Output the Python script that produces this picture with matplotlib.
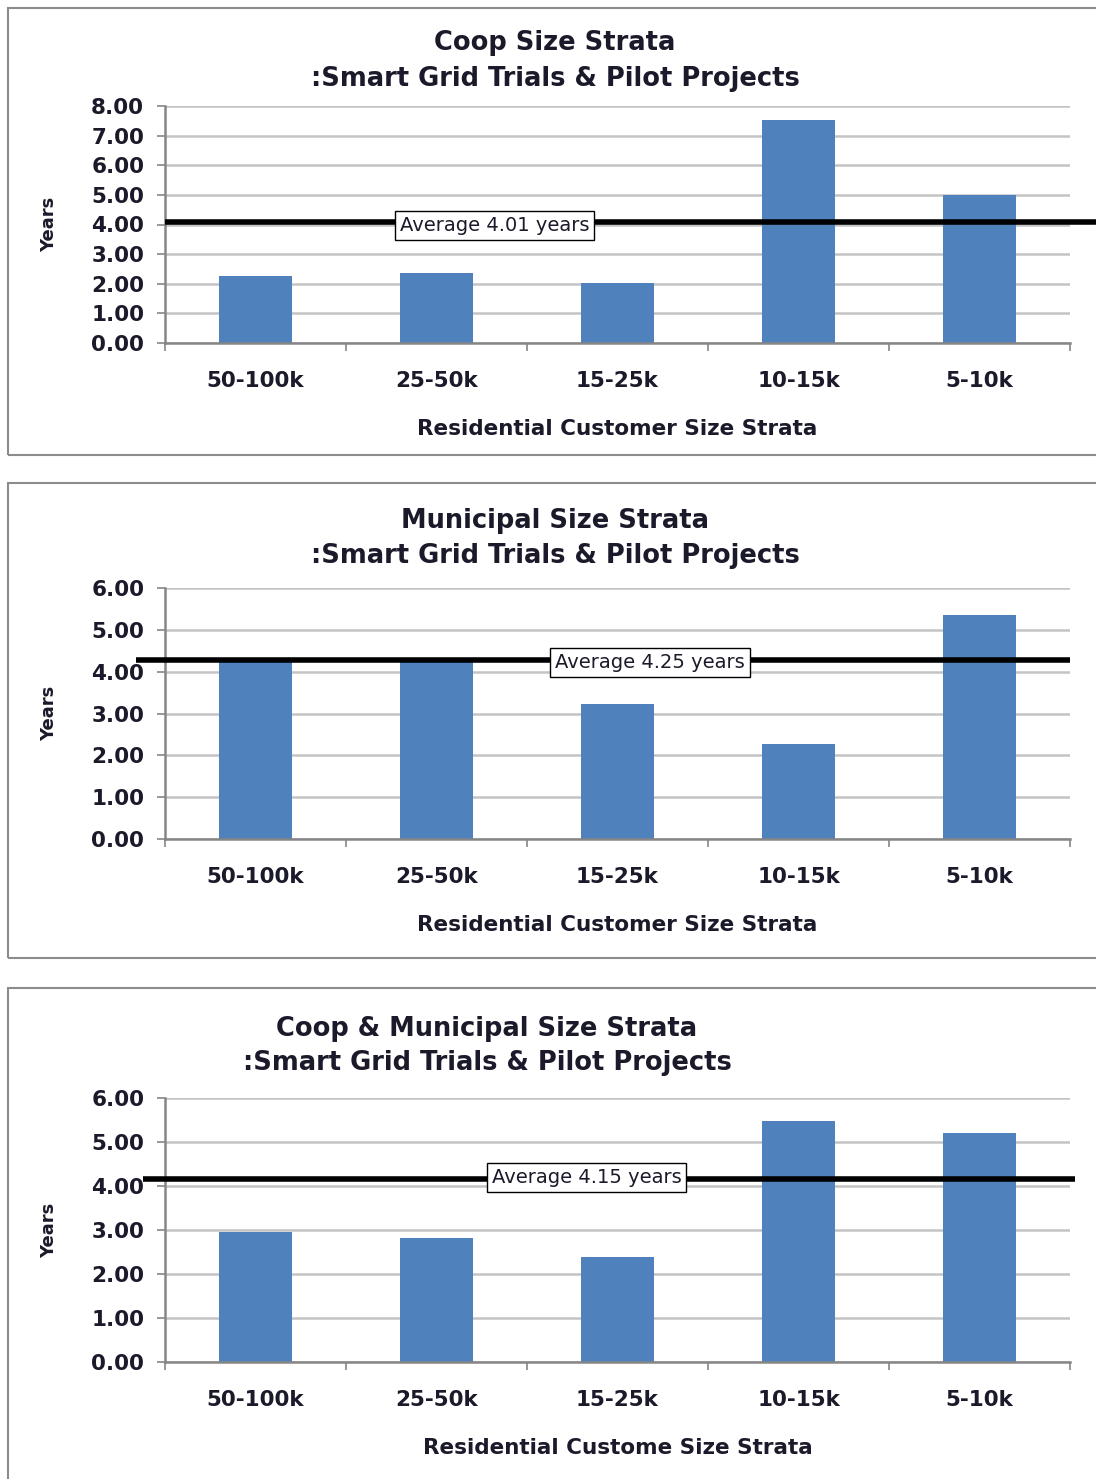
import matplotlib
matplotlib.use("Agg")
import matplotlib.pyplot as plt
from matplotlib.patches import Rectangle
from matplotlib.ticker import FixedLocator, NullFormatter

plt.rcParams['font.family'] = ['DejaVu Sans']

strata = ['50-100k', '25-50k', '15-25k', '10-15k', '5-10k']

coop_years = [2.27, 2.35, 2.01, 7.52, 5.00]
muni_years = [4.29, 4.29, 3.22, 2.27, 5.36]
both_years = [2.96, 2.82, 2.39, 5.48, 5.20]

avg_labels = ['Average 4.01 years', 'Average 4.25 years', 'Average 4.15 years']
avg_lines = [4.07, 4.28, 4.17]

titles = ['Coop Size Strata\n:Smart Grid Trials & Pilot Projects',
          'Municipal Size Strata\n:Smart Grid Trials & Pilot Projects',
          'Coop & Municipal Size Strata\n:Smart Grid Trials & Pilot Projects']
xlabels = ['Residential Customer Size Strata',
           'Residential Customer Size Strata',
           'Residential Custome Size Strata']
ymax = [8, 6, 6]

bar_col = '#4F81BD'
grid_col = '#C4C4C4'
axis_col = '#868686'
txt_col = '#1a1a2a'

W, H = 1096, 1479
fig = plt.figure(figsize=(W / 100, H / 100), dpi=100)

# panel boxes (pixel rows top/bottom)
boxes = [(8, 455), (483, 958), (988, 1490)]
for top, bot in boxes:
    fig.patches.append(Rectangle((8 / W, 1 - bot / H), 1.2, (bot - top) / H,
                                 transform=fig.transFigure, fill=False,
                                 edgecolor='#8c8c8c', linewidth=1.5))

# axes rows: (top px, bottom px)
ax_rows = [(106, 343), (588, 839), (1098, 1362)]
title_pos = [(555, 61), (555, 538), (487, 1046)]
avg_box = [(1.32, 3.96), (2.18, 4.22), (1.83, 4.20)]
line_x = [(-0.5, 4.72), (-0.66, 4.5), (-0.62, 4.53)]

series = [coop_years, muni_years, both_years]
x = list(range(len(strata)))

for i in range(3):
    top, bot = ax_rows[i]
    ax = fig.add_axes([165 / W, 1 - bot / H, 905 / W, (bot - top) / H])
    ax.bar(x, series[i], width=0.4, color=bar_col, zorder=2)
    ax.set_xlim(-0.5, 4.5)
    ax.set_ylim(0, ymax[i])
    ax.set_yticks(range(0, ymax[i] + 1))
    ax.set_yticklabels(['%.2f' % v for v in range(0, ymax[i] + 1)],
                       fontsize=15.5, fontweight='bold', color=txt_col)
    ax.grid(axis='y', color=grid_col, linewidth=1.8, zorder=0)
    ax.set_axisbelow(True)
    for s in ['top', 'right']:
        ax.spines[s].set_visible(False)
    for s in ['left', 'bottom']:
        ax.spines[s].set_color(axis_col)
        ax.spines[s].set_linewidth(1.8)
    ax.xaxis.set_major_locator(FixedLocator([k - 0.5 for k in range(6)]))
    ax.xaxis.set_major_formatter(NullFormatter())
    ax.xaxis.set_minor_locator(FixedLocator(x))
    ax.set_xticklabels(strata, minor=True, fontsize=15.5, fontweight='bold',
                       color=txt_col)
    ax.tick_params(axis='x', which='major', length=6, color=axis_col, width=1.2)
    ax.tick_params(axis='x', which='minor', length=0, pad=20)
    ax.tick_params(axis='y', length=6, color=axis_col, width=1.2, pad=9)
    ax.set_xlabel(xlabels[i], fontsize=15.5, fontweight='bold', labelpad=20,
                  color=txt_col)
    ax.set_ylabel('Years', fontsize=13, fontweight='bold', labelpad=24,
                  color=txt_col)

    # average line and its label
    ax.plot(line_x[i], [avg_lines[i], avg_lines[i]], color='black',
            linewidth=4, clip_on=False, zorder=4, solid_capstyle='butt')
    ax.text(avg_box[i][0], avg_box[i][1], avg_labels[i], fontsize=14,
            ha='center', va='center', zorder=5, color=txt_col,
            bbox=dict(boxstyle='square,pad=0.25', facecolor='white',
                      edgecolor='black', linewidth=1))

    tx, ty = title_pos[i]
    fig.text(tx / W, 1 - ty / H, titles[i], fontsize=18.5, fontweight='bold',
             ha='center', va='center', linespacing=1.45, color=txt_col)

fig.savefig('out.png', dpi=100)
